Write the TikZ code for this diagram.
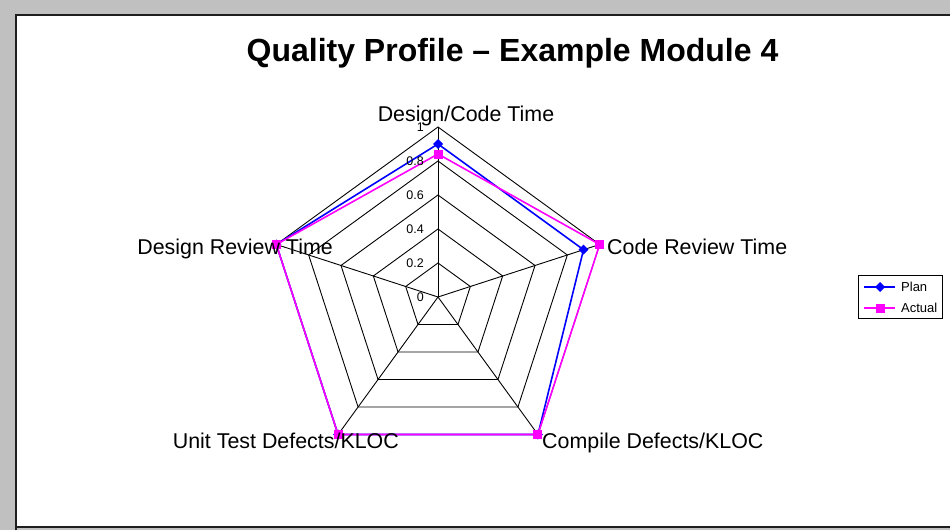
\documentclass[tikz,border=0pt]{standalone}
\usepackage{fontspec}
\setmainfont{Liberation Sans}
\usetikzlibrary{calc}
\definecolor{plancol}{RGB}{0,0,255}
\definecolor{actcol}{RGB}{255,0,255}
\definecolor{panelgray}{RGB}{192,192,192}
\definecolor{edgedark}{RGB}{30,30,30}
\tikzset{
  gridline/.style={draw=black, line width=0.9pt},
  series/.style={line width=1.6pt, line join=miter},
  axislabel/.style={inner sep=0pt, font=\fontsize{21.4}{23}\selectfont},
  ticklabel/.style={inner sep=0pt, anchor=east, font=\fontsize{12.5}{14}\selectfont},
  legendtext/.style={inner sep=0pt, anchor=west, font=\fontsize{13}{15}\selectfont},
  plandot/.pic={\fill[plancol] (-5,0) -- (0,-5) -- (5,0) -- (0,5) -- cycle;},
  actdot/.pic={\fill[actcol] (-4.5,-4.5) rectangle (4.5,4.5);}
}
\begin{document}
\begin{tikzpicture}[x=1pt,y=-1pt]
\useasboundingbox (0,0) rectangle (950,530);
% window frame
\fill[panelgray] (0,0) rectangle (950,530);
\fill[white] (15,14) rectangle (950,527);
\draw[edgedark, line width=2pt] (16,530) -- (16,15) -- (950,15);
\draw[edgedark, line width=2pt] (15,527) -- (950,527);

% title
\node[anchor=base, inner sep=0pt, font=\bfseries\fontsize{32}{34}\selectfont] (title) at (512.5,61) {Quality Profile – Example Module 4};

% radar chart: centre (438,297), radius 170, five axes
\begin{scope}[shift={(438,297)}, yscale=-1]
  \coordinate (O) at (0,0);
  \foreach \k in {0,...,4} {
    \pgfmathsetmacro{\ang}{90-72*\k}
    \coordinate (v\k) at (\ang:170);
  }
  % concentric pentagons
  \foreach \r in {34,68,102,136,170} {
    \draw[gridline] (90:\r) -- (18:\r) -- (-54:\r) -- (-126:\r) -- (-198:\r) -- cycle;
  }
  % spokes
  \foreach \k in {0,...,4} { \draw[gridline] (O) -- (v\k); }

  % Plan series
  \coordinate (p0) at (90:153);
  \coordinate (p1) at (18:153);
  \coordinate (p2) at (-54:170);
  \coordinate (p3) at (-126:170);
  \coordinate (p4) at (-198:170);
  \draw[series, plancol] (p0) -- (p1) -- (p2) -- (p3) -- (p4) -- cycle;
  \foreach \k in {0,...,4} { \pic at (p\k) {plandot}; }

  % Actual series
  \coordinate (a0) at (90:143);
  \coordinate (a1) at (18:170);
  \coordinate (a2) at (-54:170);
  \coordinate (a3) at (-126:170);
  \coordinate (a4) at (-198:170);
  \draw[series, actcol] (a0) -- (a1) -- (a2) -- (a3) -- (a4) -- cycle;
  \foreach \k in {0,...,4} { \pic at (a\k) {actdot}; }
\end{scope}

% scale labels
\node[ticklabel] (t0) at (424,297) {0};
\node[ticklabel] (t2) at (424,263) {0.2};
\node[ticklabel] (t4) at (424,229) {0.4};
\node[ticklabel] (t6) at (424,195) {0.6};
\node[ticklabel] (t8) at (424,161) {0.8};
\node[ticklabel] (t10) at (424,127) {1};

% axis labels
\node[axislabel, anchor=base] (lab0) at (466,121) {Design/Code Time};
\node[axislabel, anchor=base west] (lab1) at (607,254) {Code Review Time};
\node[axislabel, anchor=base west] (lab2) at (542,448) {Compile Defects/KLOC};
\node[axislabel, anchor=base east] (lab3) at (399,448) {Unit Test Defects/KLOC};
\node[axislabel, anchor=base east] (lab4) at (333,254) {Design Review Time};

% legend
\draw[black, line width=0.8pt] (858,275) rectangle (942,318);
\coordinate (lp1) at (864,287);
\coordinate (lp2) at (895,287);
\coordinate (la1) at (864,308);
\coordinate (la2) at (895,308);
\draw[plancol, line width=1.4pt] (lp1) -- (lp2);
\pic at (880,287) {plandot};
\draw[actcol, line width=1.4pt] (la1) -- (la2);
\pic at (880,308) {actdot};
\node[legendtext] (legplan) at (901,287) {Plan};
\node[legendtext] (legact) at (901,308) {Actual};
\end{tikzpicture}
\end{document}
